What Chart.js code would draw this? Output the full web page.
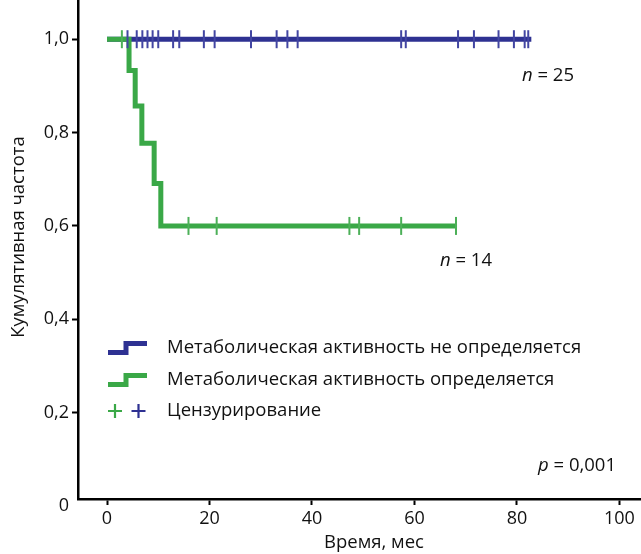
<!DOCTYPE html>
<html>
<head>
<meta charset="utf-8">
<script src="https://cdn.jsdelivr.net/npm/chart.js@4.4.1/dist/chart.umd.min.js"></script>
<style>
html,body{margin:0;padding:0;background:#fff;}
#wrap{width:641px;height:554px;position:relative;}
</style>
</head>
<body>
<div id="wrap"><canvas id="c" width="641" height="554"></canvas></div>
<script>
// ---- data ----
const blueTimes = [0, 82.8];
const blueSurv = [1.0, 1.0];
const blueCensor = [4.0, 5.8, 6.9, 7.9, 8.9, 10.0, 12.9, 14.1, 18.9, 21.0, 28.1, 33.1, 35.2, 37.2, 57.4, 58.3, 68.5, 71.6, 76.4, 79.4, 81.5, 82.2];

const greenTimes = [0, 4.3, 5.5, 6.8, 9.2, 10.5, 68.3];
const greenSurv = [1.0, 0.933, 0.857, 0.777, 0.691, 0.600, 0.600];
const greenCensor = [2.9, 15.9, 21.4, 47.3, 49.2, 57.4, 68.1];

const xTickValues = [0, 20, 40, 60, 80, 100];
const yTickValues = [0, 0.2, 0.4, 0.6, 0.8, 1.0];

const legendLabels = ['Метаболическая активность не определяется', 'Метаболическая активность определяется', 'Цензурирование'];
const nLabels = ['25', '14'];
const pLabel = '0,001';
const xTitle = 'Время, мес';
const yTitle = 'Кумулятивная частота';

const BLUE = '#2e3192';
const GREEN = '#3aa847';
const FONT = '"Open Sans", sans-serif';

function survAt(times, surv, t) {
  let v = surv[0];
  for (let i = 0; i < times.length; i++) { if (times[i] <= t) v = surv[i]; }
  return v;
}
const pts = (ts, ss) => ts.map((t, i) => ({x: t, y: ss[i]}));
const cens = (cs, ts, ss) => cs.map(t => ({x: t, y: survAt(ts, ss, t)}));

const overlay = {
  id: 'overlay',
  afterDraw(chart) {
    const ctx = chart.ctx;
    ctx.save();
    // legend
    const lx = 108, tx = 167;
    const rows = [348, 380, 411];
    const cols = [BLUE, GREEN];
    ctx.lineWidth = 5;
    ctx.lineCap = 'butt';
    for (let i = 0; i < 2; i++) {
      const y = rows[i];
      ctx.strokeStyle = cols[i];
      ctx.beginPath();
      ctx.moveTo(lx, y + 4.5);
      ctx.lineTo(lx + 18, y + 4.5);
      ctx.lineTo(lx + 18, y - 4.5);
      ctx.lineTo(lx + 39, y - 4.5);
      ctx.stroke();
    }
    ctx.lineWidth = 2.2;
    const crosses = [[115, GREEN], [138.5, BLUE]];
    crosses.forEach(([cx, c]) => {
      ctx.strokeStyle = c;
      ctx.beginPath();
      ctx.moveTo(cx - 7, rows[2]); ctx.lineTo(cx + 7, rows[2]);
      ctx.moveTo(cx, rows[2] - 7); ctx.lineTo(cx, rows[2] + 7);
      ctx.stroke();
    });
    ctx.fillStyle = '#111';
    ctx.font = '18.5px ' + FONT;
    ctx.textBaseline = 'middle';
    ctx.textAlign = 'left';
    legendLabels.forEach((s, i) => ctx.fillText(s, tx, rows[i]));

    // annotations
    function ann(letter, rest, x, y) {
      ctx.font = 'italic 18.5px ' + FONT;
      ctx.fillText(letter, x, y);
      const w = ctx.measureText(letter).width;
      ctx.font = '18.5px ' + FONT;
      ctx.fillText(' = ' + rest, x + w, y);
    }
    ann('n', nLabels[0], 522, 76);
    ann('n', nLabels[1], 440, 261);
    ann('p', pLabel, 538, 466);

    // axis titles
    ctx.font = '18.5px ' + FONT;
    ctx.textAlign = 'center';
    ctx.fillText(xTitle, 374, 543);
    ctx.translate(19, 237);
    ctx.rotate(-Math.PI / 2);
    ctx.fillText(yTitle, 0, 0);
    ctx.restore();
  }
};

new Chart(document.getElementById('c'), {
  type: 'scatter',
  data: {
    datasets: [
      {
        label: 'blue censor',
        data: cens(blueCensor, blueTimes, blueSurv),
        showLine: false,
        pointStyle: 'line', rotation: 90, pointRadius: 9,
        borderColor: '#4245a2', backgroundColor: '#4245a2', borderWidth: 2,
        order: 0
      },
      {
        label: 'green censor',
        data: cens(greenCensor, greenTimes, greenSurv),
        showLine: false,
        pointStyle: 'line', rotation: 90, pointRadius: 9,
        borderColor: '#4cb058', backgroundColor: '#4cb058', borderWidth: 2,
        order: 1
      },
      {
        label: legendLabels[1],
        data: pts(greenTimes, greenSurv),
        showLine: true, stepped: true,
        borderColor: GREEN, borderWidth: 5, pointRadius: 0,
        borderCapStyle: 'butt', borderJoinStyle: 'miter',
        order: 2
      },
      {
        label: legendLabels[0],
        data: pts(blueTimes, blueSurv),
        showLine: true, stepped: true,
        borderColor: BLUE, borderWidth: 5, pointRadius: 0,
        borderCapStyle: 'butt',
        order: 3
      }
    ]
  },
  options: {
    responsive: false,
    animation: false,
    events: [],
    layout: {padding: 0, autoPadding: false},
    plugins: {legend: {display: false}, tooltip: {enabled: false}, title: {display: false}},
    scales: {
      x: {
        type: 'linear', min: -5.66, max: 104.2,
        afterBuildTicks: s => { s.ticks = xTickValues.map(v => ({value: v})); },
        afterFit: s => { s.height = 55; s.paddingLeft = 0; s.paddingRight = 0; },
        ticks: {color: '#111', font: {size: 18, family: FONT}, padding: 3, maxRotation: 0, callback: v => String(v)},
        grid: {display: true, drawOnChartArea: false, drawTicks: true, tickLength: 6, tickWidth: 2, tickColor: '#000'},
        border: {display: true, color: '#000', width: 2.5},
        title: {display: false}
      },
      y: {
        type: 'linear', min: 0.015, max: 1.084,
        afterBuildTicks: s => { s.ticks = yTickValues.map(v => ({value: v})); },
        afterFit: s => { s.width = 78; s.paddingTop = 0; s.paddingBottom = 0; },
        ticks: {color: '#111', font: {size: 18, family: FONT}, padding: 3,
          callback: v => v === 0 ? '0' : v.toFixed(1).replace('.', ',')},
        grid: {display: true, drawOnChartArea: false, drawTicks: true, tickLength: 6, tickWidth: 2,
          tickColor: c => (c.tick && c.tick.value === 0) ? 'rgba(0,0,0,0)' : '#000'},
        border: {display: true, color: '#000', width: 2.5},
        title: {display: false}
      }
    }
  },
  plugins: [overlay]
});
</script>
</body>
</html>
